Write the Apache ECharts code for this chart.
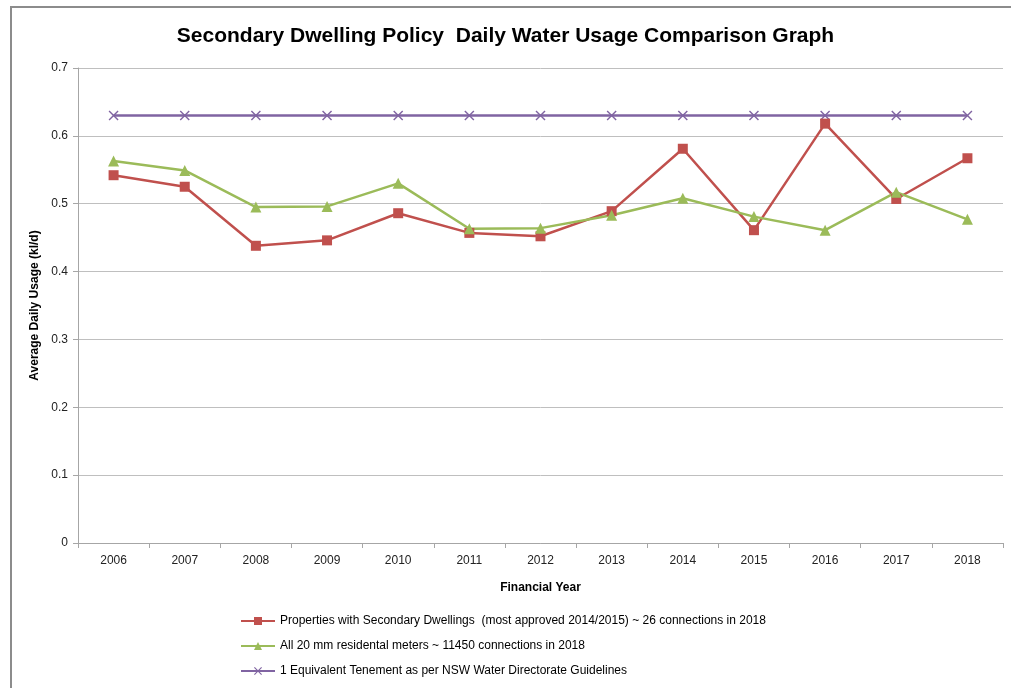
<!DOCTYPE html>
<html>
<head>
<meta charset="utf-8">
<script src="https://cdn.jsdelivr.net/npm/echarts@6/dist/echarts.min.js"></script>
<style>
  html, body { margin: 0; padding: 0; background: #fff; }
  #chart { width: 1011px; height: 688px; }
</style>
</head>
<body>
<div id="chart"></div>
<script>
// financial years on the x axis
const years = ['2006', '2007', '2008', '2009', '2010', '2011', '2012', '2013', '2014', '2015', '2016', '2017', '2018'];

// average daily usage, kl/d
const secondaryDwellings = [0.542, 0.525, 0.438, 0.446, 0.486, 0.457, 0.452, 0.489, 0.581, 0.461, 0.618, 0.507, 0.567];
const allMeters = [0.563, 0.549, 0.495, 0.496, 0.530, 0.463, 0.464, 0.483, 0.508, 0.481, 0.461, 0.517, 0.477];
const equivTenement = [0.63, 0.63, 0.63, 0.63, 0.63, 0.63, 0.63, 0.63, 0.63, 0.63, 0.63, 0.63, 0.63];

const seriesNames = [
  'Properties with Secondary Dwellings  (most approved 2014/2015) ~ 26 connections in 2018',
  'All 20 mm residental meters ~ 11450 connections in 2018',
  '1 Equivalent Tenement as per NSW Water Directorate Guidelines'
];

const xMark = 'path://M0,1L1,0L5,4L9,0L10,1L6,5L10,9L9,10L5,6L1,10L0,9L4,5Z';
const font = '"Liberation Sans", Arial, sans-serif';

const myChart = echarts.init(document.getElementById('chart'));

const option = {
  backgroundColor: '#fff',
  animation: false,
  textStyle: { fontFamily: font },
  // chart frame, only left and top edges are visible
  graphic: [{
    type: 'rect',
    shape: { x: 11, y: 7, width: 1200, height: 900 },
    style: { fill: 'none', stroke: '#8c8c8c', lineWidth: 2 },
    silent: true
  }],
  title: {
    text: 'Secondary Dwelling Policy  Daily Water Usage Comparison Graph',
    left: 'center',
    top: 21,
    textStyle: { fontSize: 21, fontWeight: 'bold', color: '#000', fontFamily: font }
  },
  legend: {
    orient: 'vertical',
    left: 240,
    top: 615,
    height: 90,
    padding: 0,
    itemGap: 13,
    itemWidth: 34,
    itemHeight: 10,
    textStyle: { fontSize: 12, color: '#000' },
    data: seriesNames
  },
  grid: { left: 78, right: 8, top: 68, bottom: 145 },
  xAxis: {
    type: 'category',
    data: years,
    boundaryGap: true,
    name: 'Financial Year',
    nameLocation: 'middle',
    nameGap: 39,
    nameTextStyle: { fontWeight: 'bold', fontSize: 12, color: '#000' },
    axisLine: { lineStyle: { color: '#a6a6a6' } },
    axisTick: { show: true, length: 5, lineStyle: { color: '#a6a6a6' } },
    axisLabel: { color: '#222', fontSize: 12, margin: 12 }
  },
  yAxis: {
    type: 'value',
    min: 0,
    max: 0.7,
    interval: 0.1,
    name: 'Average Daily Usage (kl/d)',
    nameLocation: 'middle',
    nameGap: 35,
    nameTextStyle: { fontWeight: 'bold', fontSize: 12, color: '#000' },
    axisLine: { show: true, lineStyle: { color: '#a6a6a6' } },
    axisTick: { show: true, length: 5, lineStyle: { color: '#a6a6a6' } },
    axisLabel: { color: '#222', fontSize: 12, margin: 10 },
    splitLine: { lineStyle: { color: '#bfbfbf' } }
  },
  series: [
    {
      name: seriesNames[0],
      type: 'line',
      data: secondaryDwellings,
      symbol: 'rect',
      symbolSize: 10,
      color: '#c0504d',
      lineStyle: { width: 2.5 }
    },
    {
      name: seriesNames[1],
      type: 'line',
      data: allMeters,
      symbol: 'triangle',
      symbolSize: 11,
      color: '#9bbb59',
      lineStyle: { width: 2.5 }
    },
    {
      name: seriesNames[2],
      type: 'line',
      data: equivTenement,
      symbol: xMark,
      symbolSize: 10,
      color: '#8064a2',
      lineStyle: { width: 2.5 },
      z: 1
    }
  ]
};

myChart.setOption(option);
</script>
</body>
</html>
